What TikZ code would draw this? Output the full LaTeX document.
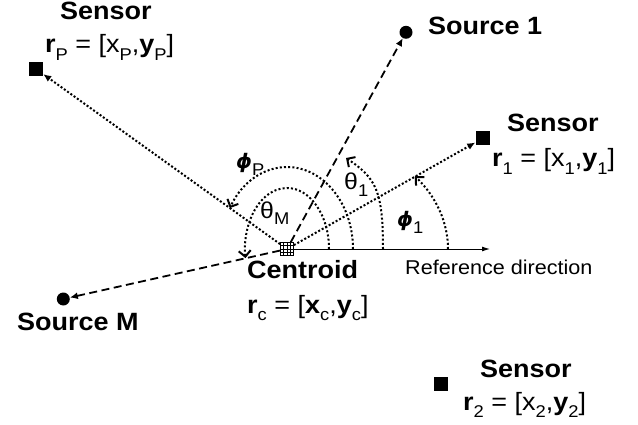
\documentclass[tikz,border=0pt]{standalone}
\usepackage{fontspec}
\setmainfont{Liberation Sans}[FakeStretch=1.08]
\newfontfamily\grkfont{DejaVu Sans}
\usetikzlibrary{arrows.meta,positioning}

\newcommand{\lowsub}[1]{\raisebox{-0.3em}{\fontsize{17}{17}\selectfont\mdseries #1}}
\newcommand{\posvec}[1]{{\bfseries r}\lowsub{#1} = [x\lowsub{#1},{\bfseries y}\lowsub{#1}]}

\begin{document}
\begin{tikzpicture}[x=1pt,y=1pt]
    \tikzset{
      sensor/.style={rectangle,fill=black,minimum size=14pt,inner sep=0pt},
      source/.style={circle,fill=black,minimum size=13pt,inner sep=0pt},
      centroid/.style={rectangle,draw=black,line width=0.8pt,minimum size=13pt,inner sep=0pt,
        path picture={\foreach \s in {-3.25,0,3.25}{
          \draw[line width=0.6pt] ([xshift=\s pt]path picture bounding box.north) -- ([xshift=\s pt]path picture bounding box.south);
          \draw[line width=0.6pt] ([yshift=\s pt]path picture bounding box.west) -- ([yshift=\s pt]path picture bounding box.east);}}},
      title/.style={anchor=base west,inner sep=0pt,font=\fontsize{25}{27}\selectfont\bfseries},
      formula/.style={anchor=base west,inner sep=0pt,font=\fontsize{25}{27}\selectfont},
      greek/.style={anchor=base west,inner sep=0pt,font=\fontsize{23}{25}\selectfont},
      sightline/.style={dash pattern=on 2pt off 2pt,line width=2pt,-{Latex[length=8pt,width=7pt]}},
      bearing/.style={dash pattern=on 8pt off 4.5pt,line width=1.8pt,-{Latex[length=8pt,width=7pt]}},
      anglearc/.style={dash pattern=on 2pt off 2.2pt,line width=2pt,-{Straight Barb[length=6pt,width=12pt,line width=2pt]}},
      refline/.style={line width=1pt,-{Latex[length=8pt,width=5pt]}}
    }
    \useasboundingbox (0,0) rectangle (638,424);
    % markers
    \node[centroid] (cen) at (287,175) {};
    \node[sensor] (senP) at (36,355) {};
    \node[sensor] (sen1) at (482.5,285.5) {};
    \node[sensor] (sen2) at (441,40) {};
    \node[source] (src1) at (406,391.7) {};
    \node[source] (srcM) at (63.3,125) {};
    \coordinate (refend) at (490,175);
    % labels
    \node[title] (senPname) at (60,404) {Sensor};
    \node[formula] (senPpos) at (45,371) {\posvec{P}};
    \node[title] (sen1name) at (507,292) {Sensor};
    \node[formula] (sen1pos) at (492,257) {\posvec{1}};
    \node[title] (sen2name) at (480,47) {Sensor};
    \node[formula] (sen2pos) at (463,14) {\posvec{2}};
    \node[title] (src1name) at (428,389) {Source 1};
    \node[title] (srcMname) at (17,94) {Source M};
    \node[title] (cenname) at (247,146) {Centroid};
    \node[formula] (cenpos) at (247,111) {{\bfseries r}\lowsub{c} = [{\bfseries x}\lowsub{c},{\bfseries y}\lowsub{c}]};
    \node[anchor=base west,inner sep=0pt,font=\fontsize{20}{22}\selectfont] (refname) at (405,150) {Reference direction};
    % angle labels
    \node[greek] (phiP) at (236,255) {{\fontsize{20}{22}\selectfont\grkfont\bfseries\itshape ϕ}\lowsub{P}};
    \node[greek] (theta1) at (344,234) {θ\lowsub{1}};
    \node[greek] (thetaM) at (260,206) {θ\lowsub{M}};
    \node[greek] (phi1) at (397,197) {{\fontsize{20}{22}\selectfont\grkfont\bfseries\itshape ϕ}\lowsub{1}};
    % lines from the centroid
    \draw[refline] (cen) -- (refend);
    \draw[sightline] (cen) -- (senP);
    \draw[sightline] (cen) -- (sen1);
    \draw[bearing] (cen) -- (src1);
    \draw[bearing] (cen) -- (srcM);
    % angles
    \draw[anglearc] ([xshift=161pt]cen.center) arc[start angle=0,end angle=37.4,x radius=161pt,y radius=120pt];
    \draw[anglearc] ([xshift=96pt]cen.center) .. controls +(0,58) and +(30,-20) .. ([shift={(59,91)}]cen.center);
    \draw[anglearc] ([xshift=66pt]cen.center) arc[start angle=0,end angle=150.1,x radius=66pt,y radius=82pt];
    \draw[anglearc] ([xshift=42pt]cen.center) arc[start angle=0,end angle=188.6,x radius=42pt,y radius=61pt];
  \end{tikzpicture}
\end{document}
